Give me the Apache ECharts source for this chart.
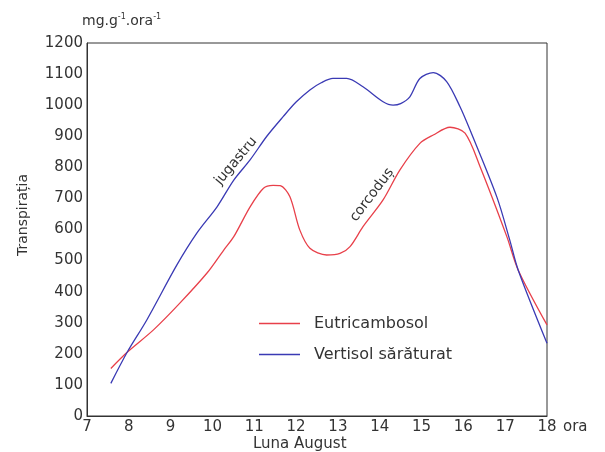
<!DOCTYPE html>
<html>
<head>
<meta charset="utf-8">
<script src="https://cdn.jsdelivr.net/npm/echarts@6/dist/echarts.min.js"></script>
<style>html,body{margin:0;padding:0;background:#fff}#c{width:605px;height:452px}</style>
</head>
<body>
<div id="c"></div>
<script>
// Data (hour, transpiration)
const seriesNames = ['Eutricambosol', 'Vertisol sărăturat'];
const hoursEutri = [7.57, 7.96, 8.59, 9.22, 9.87, 10.27, 10.51, 10.9, 11.22, 11.45, 11.62, 11.85, 12.09, 12.33, 12.73, 13.05, 13.29, 13.6, 14.08, 14.48, 14.96, 15.28, 15.68, 16.04, 16.4, 17.04, 17.31, 18];
const valuesEutri = [153, 205, 277, 363, 460, 534, 577, 673, 733, 742, 741, 706, 598, 540, 518, 523, 545, 609, 695, 791, 877, 904, 929, 910, 802, 577, 470, 293];
const hoursVert = [7.57, 7.96, 8.43, 9.15, 9.63, 10.11, 10.51, 10.9, 11.3, 11.69, 12.0, 12.33, 12.6, 12.88, 13.21, 13.6, 14.08, 14.32, 14.5, 14.72, 14.96, 15.28, 15.6, 15.92, 16.16, 16.8, 17.11, 17.31, 18];
const valuesVert = [105, 205, 309, 486, 589, 673, 759, 824, 900, 963, 1010, 1049, 1072, 1086, 1086, 1059, 1011, 1000, 1005, 1027, 1086, 1105, 1076, 995, 920, 705, 566, 470, 234];
const xTicks = {min: 7, max: 18, step: 1};
const yTicks = {min: 0, max: 1200, step: 100};

const FONT = 'DejaVu Sans';
const chart = echarts.init(document.getElementById('c'));
const pair = (xs, ys) => xs.map((x, i) => [x, ys[i]]);

chart.setOption({
  animation: false,
  backgroundColor: '#fff',
  grid: {left: 87, right: 58, top: 43, bottom: 36, show: true, borderColor: '#333', borderWidth: 1},
  xAxis: {
    type: 'value', min: xTicks.min, max: xTicks.max, interval: xTicks.step,
    name: 'ora', nameLocation: 'end', nameGap: 16,
    nameTextStyle: {fontFamily: FONT, fontSize: 15, color: '#333', verticalAlign: 'top', padding: [4, 0, 0, 0]},
    axisLine: {show: true, lineStyle: {color: '#333', width: 1}},
    axisTick: {show: false},
    splitLine: {show: false},
    axisLabel: {fontFamily: FONT, fontSize: 15, color: '#333', margin: 4, formatter: v => String(v)}
  },
  yAxis: {
    type: 'value', min: yTicks.min, max: yTicks.max, interval: yTicks.step,
    axisLine: {show: true, lineStyle: {color: '#333', width: 1}},
    axisTick: {show: false},
    splitLine: {show: false},
    axisLabel: {fontFamily: FONT, fontSize: 15, color: '#333', margin: 4, formatter: v => String(v)}
  },
  legend: {
    orient: 'vertical', left: 254, top: 309, itemWidth: 41, itemHeight: 1.5, itemGap: 12, icon: 'rect',
    textStyle: {fontFamily: FONT, fontSize: 16, color: '#333', padding: [0, 0, 0, 9], lineHeight: 19},
    data: seriesNames
  },
  series: [
    {name: seriesNames[0], type: 'line', data: pair(hoursEutri, valuesEutri), symbol: 'none', smooth: 0.3,
     lineStyle: {color: '#e8404a', width: 1.3}, itemStyle: {color: '#e8404a'}},
    {name: seriesNames[1], type: 'line', data: pair(hoursVert, valuesVert), symbol: 'none', smooth: 0.3,
     lineStyle: {color: '#3a3ab4', width: 1.3}, itemStyle: {color: '#3a3ab4'}}
  ],
  graphic: [
    {type: 'text', left: 82, top: 13, style: {
      text: '{a|mg.g}{s|-1}{a|.ora}{s|-1}',
      rich: {a: {fontFamily: FONT, fontSize: 14, fill: '#333'}, s: {fontFamily: FONT, fontSize: 8, fill: '#333', padding: [0, 0, 8, 0]}}
    }},
    {type: 'text', x: 23, y: 215, rotation: Math.PI / 2, style: {
      text: 'Transpirația', fontFamily: FONT, fontSize: 14, fill: '#333', align: 'center', verticalAlign: 'middle'
    }},
    {type: 'text', x: 236, y: 161, rotation: 50 * Math.PI / 180, style: {
      text: 'jugastru', fontFamily: FONT, fontSize: 14, fill: '#333', align: 'center', verticalAlign: 'middle'
    }},
    {type: 'text', x: 372, y: 195, rotation: 53 * Math.PI / 180, style: {
      text: 'corcoduș', fontFamily: FONT, fontSize: 14, fill: '#333', align: 'center', verticalAlign: 'middle'
    }},
    {type: 'text', left: 253, top: 437, style: {
      text: 'Luna August', fontFamily: FONT, fontSize: 15, fill: '#333'
    }}
  ]
});
</script>
</body>
</html>
